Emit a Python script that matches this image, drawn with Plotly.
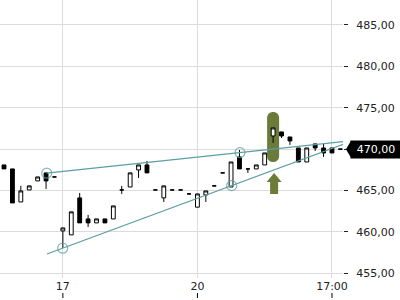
import plotly.graph_objects as go

# ---- data ----
idx = list(range(41))
opens = [468.09, 467.61, 463.62, 465.07, 466.16, 467.13, 466.64, 460.12, 459.64, 464.11,
         461.57, 461.09, 461.57, 461.57, 465.07, 465.43, 467.49, 468.09, 465.07, 464.11,
         465.07, 465.07, 464.59, 462.99, 464.47, 465.56, 467.13, 465.43, 469.06, 467.61,
         467.61, 468.09, 471.59, 472.08, 471.47, 470.14, 468.45, 470.63, 470.14, 470.14,
         470.00]
highs = [468.09, 467.61, 465.56, 465.56, 466.64, 467.13, 466.64, 460.48, 462.42, 464.71,
         462.05, 461.57, 461.57, 463.14, 465.56, 467.13, 468.09, 468.57, 465.07, 465.56,
         465.07, 465.07, 464.59, 464.59, 464.95, 465.56, 467.13, 468.45, 469.90, 467.61,
         468.09, 469.54, 472.56, 472.08, 471.47, 470.14, 470.14, 470.63, 470.63, 470.14,
         470.00]
lows = [467.61, 463.50, 463.62, 465.07, 466.16, 465.19, 466.64, 458.07, 459.64, 461.09,
        460.60, 461.09, 461.09, 461.57, 464.59, 465.43, 466.52, 467.13, 465.07, 463.62,
        465.07, 465.07, 464.59, 462.99, 463.62, 465.56, 467.13, 465.43, 467.61, 467.13,
        467.61, 468.09, 470.75, 471.35, 470.51, 468.45, 468.45, 469.78, 469.06, 469.54,
        470.00]
closes = [467.61, 463.50, 464.95, 465.56, 466.64, 466.16, 466.64, 460.48, 462.42, 461.09,
          461.09, 461.57, 461.09, 463.14, 465.07, 467.13, 468.09, 467.13, 465.07, 465.56,
          465.07, 465.07, 464.59, 464.59, 464.95, 465.56, 467.13, 468.45, 467.61, 467.61,
          468.09, 469.54, 472.56, 471.59, 470.99, 468.45, 470.14, 470.14, 469.54, 469.54,
          470.00]

tick_vals = [7, 23, 39]
tick_text = ["17", "20", "17:00"]
y_ticks = [455, 460, 465, 470, 475, 480, 485]
y_tick_text = ["455,00", "460,00", "465,00", "470,00", "475,00", "480,00", "485,00"]

upper_x = [5.08, 28.06, 41.0]
upper_y = [467.09, 469.58, 470.98]
lower_x = [5.11, 6.98, 27.07, 41.0]
lower_y = [457.33, 458.03, 465.59, 470.83]
anchor_x = [5.08, 28.06, 6.98, 27.07]
anchor_y = [467.09, 469.58, 458.03, 465.59]

highlight_idx = 32
highlight_mid = 471.47
arrow_tip = 467.13
last_price = 470.00
last_label = "470,00"

TEAL = "#5c9ea3"
OLIVE = "#6b7b3a"
FONT = "DejaVu Sans"

fig = go.Figure()
fig.add_trace(go.Candlestick(
    x=idx, open=opens, high=highs, low=lows, close=closes,
    increasing=dict(fillcolor="white", line=dict(color="black", width=1)),
    decreasing=dict(fillcolor="black", line=dict(color="black", width=1)),
    whiskerwidth=0, showlegend=False, hoverinfo="skip"))
fig.add_trace(go.Scatter(x=upper_x, y=upper_y, mode="lines",
                         line=dict(color=TEAL, width=1.3), showlegend=False, hoverinfo="skip"))
fig.add_trace(go.Scatter(x=lower_x, y=lower_y, mode="lines",
                         line=dict(color=TEAL, width=1.3), showlegend=False, hoverinfo="skip"))
fig.add_trace(go.Scatter(x=anchor_x, y=anchor_y, mode="markers",
                         marker=dict(symbol="circle-open", size=10,
                                     color="rgba(92,158,163,0.75)", line=dict(width=1.2)),
                         showlegend=False, hoverinfo="skip"))

shapes = []
# highlight bar (rounded) behind candle
shapes.append(dict(type="path", xref="x", yref="y", xsizemode="pixel", ysizemode="pixel",
                   xanchor=highlight_idx, yanchor=highlight_mid, layer="between",
                   path="M -6,-19 L -6,19 C -6,27 6,27 6,19 L 6,-19 C 6,-27 -6,-27 -6,-19 Z",
                   fillcolor=OLIVE, line=dict(width=0)))
# up arrow
shapes.append(dict(type="path", xref="x", yref="y", xsizemode="pixel", ysizemode="pixel",
                   xanchor=highlight_idx, yanchor=arrow_tip, layer="above",
                   path="M 1,0 L 8.5,-9 L 5,-9 L 5,-21 L -3,-21 L -3,-9 L -6.5,-9 Z",
                   fillcolor=OLIVE, line=dict(width=0)))
# last price pointer
shapes.append(dict(type="path", xref="paper", yref="y", xsizemode="pixel", ysizemode="pixel",
                   xanchor=1, yanchor=last_price, layer="above",
                   path="M 3,0 L 8,8.5 L 8,-8.5 Z", fillcolor="black", line=dict(width=0)))
# x tick marks below labels
for tv in tick_vals:
    shapes.append(dict(type="line", xref="x", yref="paper", xsizemode="pixel", ysizemode="pixel",
                       xanchor=tv, yanchor=0, x0=0, x1=0, y0=-15, y1=-20,
                       line=dict(color="black", width=1)))

fig.update_layout(
    width=400, height=300,
    margin=dict(l=0, r=57, t=0, b=22),
    paper_bgcolor="white", plot_bgcolor="white",
    boxgap=0.35,
    shapes=shapes,
    font=dict(family=FONT, size=11, color="#222"),
    annotations=[dict(xref="paper", yref="y", x=1, y=last_price, xanchor="left",
                      xshift=7, text=last_label, showarrow=False, bgcolor="black",
                      font=dict(color="white", size=11, family=FONT),
                      width=46, borderpad=2, align="center")],
)
fig.update_xaxes(range=[-0.476, 40.31], tickvals=tick_vals, ticktext=tick_text,
                 showgrid=True, gridcolor="#dcdcdc", gridwidth=1, zeroline=False,
                 showline=False, ticks="", rangeslider=dict(visible=False),
                 tickfont=dict(size=11, color="#222"))
fig.update_yaxes(range=[454.43, 488.02], side="right", tickvals=y_ticks, ticktext=y_tick_text,
                 showgrid=True, gridcolor="#dcdcdc", gridwidth=1, zeroline=False,
                 showline=False, ticks="outside", ticklen=4, tickcolor="#222",
                 ticklabelstandoff=6, tickfont=dict(size=11, color="#222"))

fig.write_html("out.html")
